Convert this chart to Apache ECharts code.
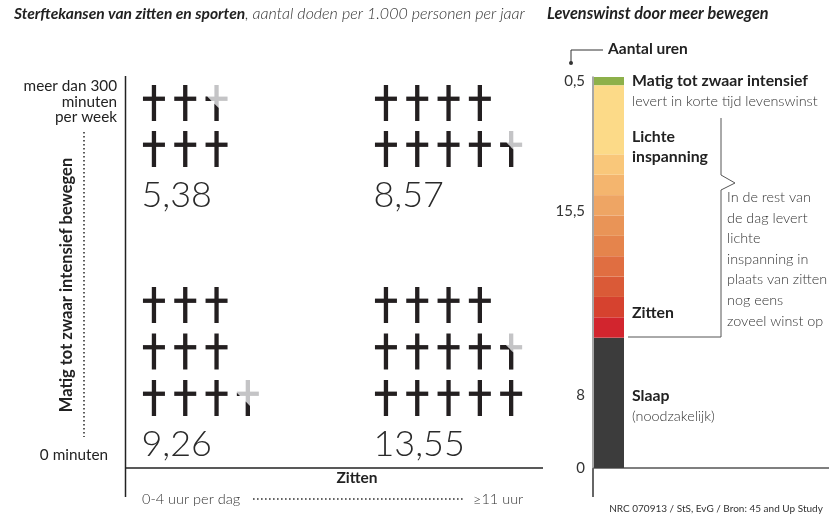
<!DOCTYPE html>
<html><head><meta charset="utf-8">
<script src="https://cdn.jsdelivr.net/npm/echarts@6/dist/echarts.min.js"></script>
<style>html,body{margin:0;padding:0;background:#fff}#c{width:829px;height:515px}</style>
</head><body><div id="c"></div>
<script>
// ---- data ----
const exerciseLevels = ['meer dan 300\nminuten\nper week', '0 minuten'];
const sittingLevels = ['0-4 uur per dag', '≥11 uur'];
const deathsPer1000 = [5.38, 8.57, 9.26, 13.55]; // top-left, top-right, bottom-left, bottom-right
const crossRowsTL = [2.38, 3];
const crossRowsTR = [4, 4.57];
const crossRowsBL = [3, 3, 3.26];
const crossRowsBR = [4, 4.55, 5];
const hourSegments = ['Slaap', 'Lichte inspanning', 'Matig tot zwaar intensief'];
const hourValues = [8, 15.5, 0.5];
const lightBandHours = [1.25, 1.25, 1.25, 1.25, 1.25, 1.25, 1.25, 1.25, 1.25, 4.25];
const hourTickValues = [0, 4.5, 15.75, 23.75];
const hourTickLabels = ['0', '8', '15,5', '0,5'];

// ---- styles ----
const INK = '#231f20', GREY = '#c4c4c6';
const sleepColor = '#3c3c3c', intenseColor = '#8db04a';
const lightBandColors = ['#d2252e','#d6422f','#da5a37','#e06e41','#e5844c','#e99457','#eea564','#f4b56e','#f9c77a','#fcda88'];
const FONT = 'Lato, "Open Sans", sans-serif';

const cells = [
  {rows: crossRowsTL, deaths: deathsPer1000[0]},
  {rows: crossRowsTR, deaths: deathsPer1000[1]},
  {rows: crossRowsBL, deaths: deathsPer1000[2]},
  {rows: crossRowsBR, deaths: deathsPer1000[3]}
];
const fmt = v => String(v).replace('.', ',');

function buildCellData(cell) {
  const d = [];
  cell.rows.forEach((v, r) => {
    const n = Math.ceil(v - 1e-9);
    for (let i = 0; i < n; i++) d.push([i + 0.5, r, Math.min(1, v - i), 0]);
  });
  d.push([0.5, cell.rows.length, cell.deaths, 1]);
  return d;
}

function clipRect(x, y, w, h, g) {
  const pts = [[x, y], [x + w, y], [x + w, y + h], [x, y + h]];
  const out = [];
  for (let i = 0; i < 4; i++) {
    const a = pts[i], b = pts[(i + 1) % 4];
    const ga = g(a), gb = g(b);
    if (ga >= 0) out.push(a);
    if ((ga >= 0) !== (gb >= 0)) {
      const t = ga / (ga - gb);
      out.push([a[0] + t * (b[0] - a[0]), a[1] + t * (b[1] - a[1])]);
    }
  }
  return out;
}

function renderItem(params, api) {
  const kind = api.value(3);
  const c = api.coord([api.value(0), api.value(1)]);
  const cx = c[0], cy = c[1];
  const W = 22, H = 36, T = 4.3;
  if (kind === 1) {
    return {type: 'text', x: cx - W / 2 - 1.5, y: cy,
      style: {text: fmt(api.value(2)), font: '300 36px ' + FONT, fill: '#2a2a2a',
        align: 'left', verticalAlign: 'middle', textAlign: 'left', textVerticalAlign: 'middle'}};
  }
  const fill = api.value(2);
  const vr = {x: cx - T / 2, y: cy - H / 2, width: T, height: H};
  const hr = {x: cx - W / 2, y: cy - H / 2 + 11.6, width: W, height: T};
  if (fill >= 1) {
    return {type: 'group', children: [
      {type: 'rect', shape: vr, style: {fill: INK}},
      {type: 'rect', shape: hr, style: {fill: INK}}
    ]};
  }
  const b = (0.5 - fill) * 24;
  const g = p => (p[1] - cy) - (p[0] - cx) - b;
  const pv = clipRect(vr.x, vr.y, vr.width, vr.height, g);
  const ph = clipRect(hr.x, hr.y, hr.width, hr.height, g);
  const ch = [
    {type: 'rect', shape: vr, style: {fill: GREY}},
    {type: 'rect', shape: hr, style: {fill: GREY}}
  ];
  if (pv.length > 2) ch.push({type: 'polygon', shape: {points: pv}, style: {fill: INK}});
  if (ph.length > 2) ch.push({type: 'polygon', shape: {points: ph}, style: {fill: INK}});
  return {type: 'group', children: ch};
}

const PX = 31.3;
const cellGrids = [
  {left: 138.3, top: 80, width: 6 * PX, height: 138},
  {left: 370.3, top: 80, width: 6 * PX, height: 138},
  {left: 138.3, top: 281.75, width: 6 * PX, height: 186},
  {left: 370.3, top: 281.75, width: 6 * PX, height: 186}
];
const grid = cellGrids.concat([{left: 594, top: 77, width: 30, height: 391}]);
const xAxis = cells.map((c, i) => ({type: 'value', gridIndex: i, min: 0, max: 6, show: false}));
const yAxis = cells.map((c, i) => ({type: 'category', gridIndex: i, inverse: true, show: false,
  data: c.rows.map((r, k) => 'r' + k).concat(['n'])}));
xAxis.push({type: 'category', gridIndex: 4, data: ['uren'], show: false});
yAxis.push({type: 'value', gridIndex: 4, min: 0, max: 24, offset: 1,
  splitLine: {show: false}, axisTick: {show: false},
  axisLine: {show: true, lineStyle: {color: '#8a8a8a', width: 1.5}},
  axisLabel: {customValues: hourTickValues, margin: 8, color: '#333', fontSize: 15, fontFamily: FONT,
    formatter: v => { const i = hourTickValues.indexOf(v); return i >= 0 ? hourTickLabels[i] : ''; }}});

const series = cells.map((c, i) => ({
  type: 'custom', xAxisIndex: i, yAxisIndex: i, renderItem, clip: false,
  encode: {x: 0, y: 1}, data: buildCellData(c), silent: true
}));
const barBase = {type: 'bar', stack: 'uren', xAxisIndex: 4, yAxisIndex: 4, barWidth: '100%', silent: true};
series.push(Object.assign({}, barBase, {name: hourSegments[0], data: [hourValues[0]], itemStyle: {color: sleepColor}}));
lightBandHours.forEach((h, i) => series.push(Object.assign({}, barBase,
  {name: hourSegments[1] + ' ' + i, data: [h], itemStyle: {color: lightBandColors[i]}})));
series.push(Object.assign({}, barBase, {name: hourSegments[2], data: [hourValues[2]], itemStyle: {color: intenseColor}}));

function txt(text, x, y, font, fill, align, extra) {
  return Object.assign({type: 'text', x, y, silent: true, style: {text, font, fill: fill || '#222',
    align: align || 'left', verticalAlign: 'middle', textAlign: align || 'left', textVerticalAlign: 'middle'}}, extra || {});
}
function line(x1, y1, x2, y2, stroke, w, dash) {
  return {type: 'line', silent: true, shape: {x1, y1, x2, y2},
    style: {stroke, lineWidth: w || 1, lineDash: dash || null}};
}
const B15 = 'bold 15.5px ' + FONT, R15 = '15.3px ' + FONT, L14 = '300 14.5px ' + FONT, L145 = '300 14.4px ' + FONT;
const exLines = exerciseLevels[0].split('\n');
const graphic = [
  {type: 'text', x: 14, y: 14, silent: true, style: {
    text: '{b|Sterftekansen van zitten en sporten}{l|, aantal doden per 1.000 personen per jaar}',
    verticalAlign: 'middle', textVerticalAlign: 'middle',
    rich: {b: {font: 'italic bold 15.6px ' + FONT, fill: '#222'}, l: {font: 'italic 300 16px ' + FONT, fill: '#333'}}}},
  txt('Levenswinst door meer bewegen', 547, 14, 'italic bold 16.3px ' + FONT, '#222'),
  // left frame
  line(125.5, 76, 125.5, 497, '#222', 1.5),
  line(125, 468, 543, 468, '#222', 1.5),
  txt(exLines[0], 117, 86, R15, '#222', 'right'),
  txt(exLines[1], 117, 102, R15, '#222', 'right'),
  txt(exLines[2], 117, 117, R15, '#222', 'right'),
  txt(exerciseLevels[1], 108, 455, R15, '#222', 'right'),
  line(84, 132, 84, 437, '#333', 1.6, [1.6, 2.4]),
  txt('Matig tot zwaar intensief bewegen', 67, 285, 'bold 16.5px ' + FONT, '#222', 'center', {rotation: Math.PI / 2}),
  txt('Zitten', 357, 478, B15, '#222', 'center'),
  txt(sittingLevels[0], 142, 499, L14, '#333', 'left'),
  line(253, 499, 463, 499, '#333', 1.6, [1.6, 2.4]),
  txt(sittingLevels[1], 473, 499, L14, '#333', 'left'),
  // right panel
  line(593, 468, 829, 468, '#555', 1.5),
  line(593, 468, 593, 497, '#333', 1.5),
  line(571, 50, 603, 50, '#333', 1),
  line(571, 50, 571, 63, '#333', 1),
  {type: 'circle', silent: true, shape: {cx: 571, cy: 63, r: 2}, style: {fill: '#333'}},
  txt('Aantal uren', 608, 49, B15, '#222'),
  txt('Matig tot zwaar intensief', 632, 81, 'bold 15.8px ' + FONT, '#222'),
  txt('levert in korte tijd levenswinst', 632, 101, L145, '#333'),
  txt('Lichte', 632, 137, 'bold 15.8px ' + FONT, '#222'),
  txt('inspanning', 632, 157, 'bold 15.8px ' + FONT, '#222'),
  txt('Zitten', 632, 313, 'bold 15.8px ' + FONT, '#222'),
  txt('Slaap', 632, 396, 'bold 15.8px ' + FONT, '#222'),
  txt('(noodzakelijk)', 632, 416, L145, '#333'),
  {type: 'polyline', silent: true, shape: {points: [[721, 118], [721, 175], [735, 183], [721, 190], [721, 337], [628, 337]]},
    style: {stroke: '#555', lineWidth: 1, fill: null}},
  txt('In de rest van', 727, 197, L145, '#333'),
  txt('de dag levert', 727, 218, L145, '#333'),
  txt('lichte', 727, 238, L145, '#333'),
  txt('inspanning in', 727, 259, L145, '#333'),
  txt('plaats van zitten', 727, 279, L145, '#333'),
  txt('nog eens', 727, 300, L145, '#333'),
  txt('zoveel winst op', 727, 321, L145, '#333'),
  txt('NRC 070913 / StS, EvG / Bron: 45 and Up Study', 716, 509, '10px ' + FONT, '#333', 'center')
];

const chart = echarts.init(document.getElementById('c'), null, {renderer: 'canvas'});
chart.setOption({animation: false, grid, xAxis, yAxis, series, graphic});
</script></body></html>
